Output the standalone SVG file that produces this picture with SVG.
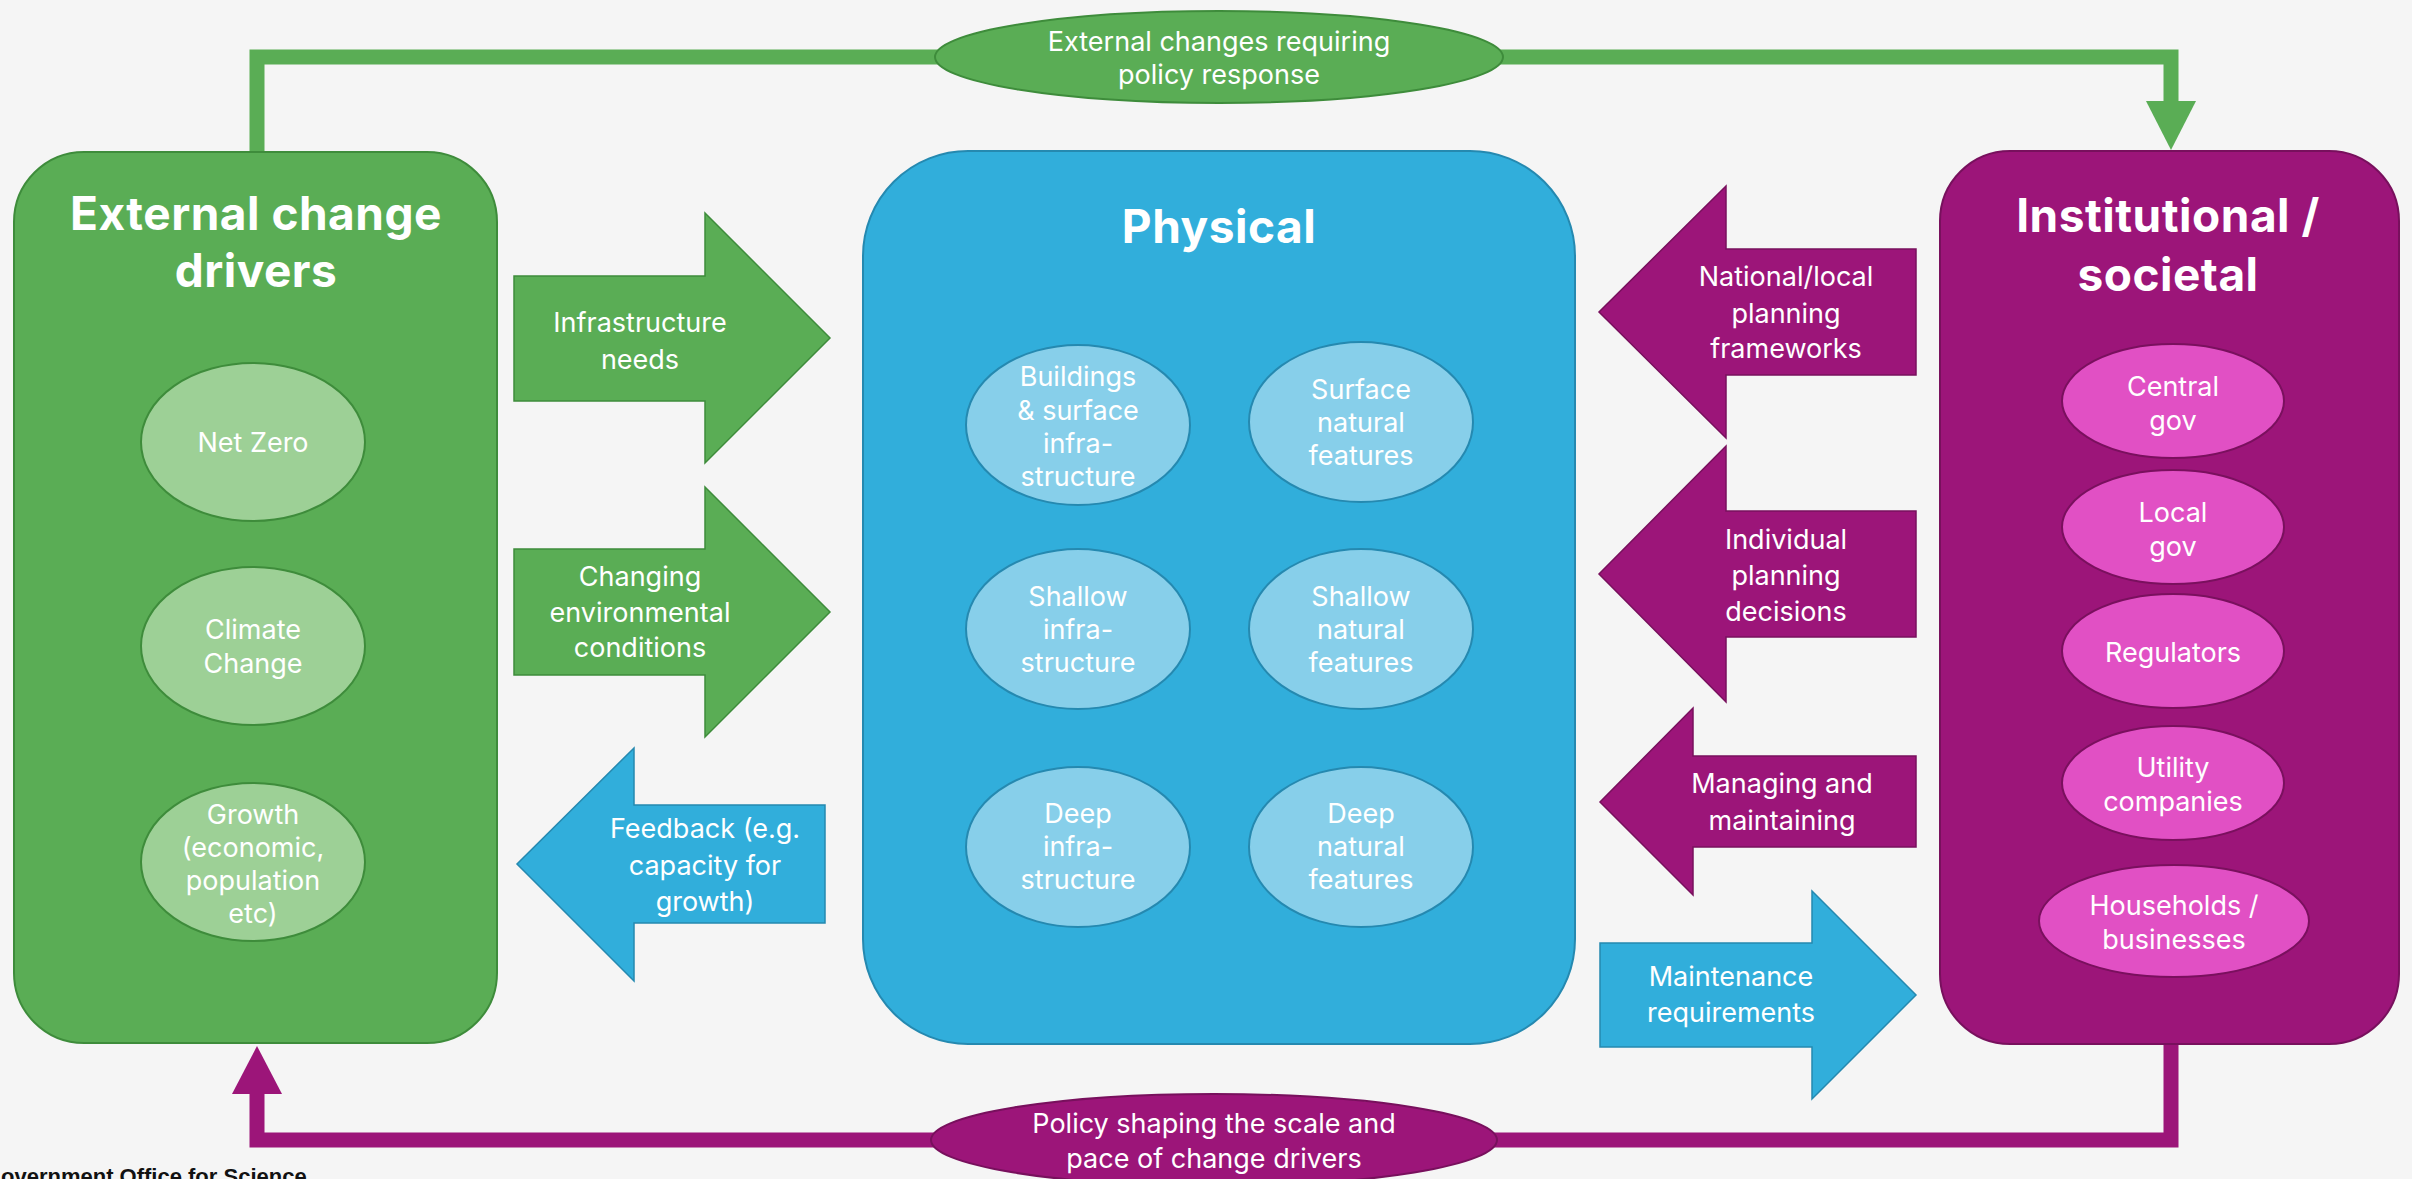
<svg xmlns="http://www.w3.org/2000/svg" width="2412" height="1179" viewBox="0 0 2412 1179">
<defs>
<style>
.t{font-family:Inter,"Open Sans","Liberation Sans",sans-serif;font-size:27px;fill:#ffffff;text-anchor:middle}
.h{font-family:Inter,"Open Sans","Liberation Sans",sans-serif;font-size:46px;font-weight:700;fill:#ffffff;text-anchor:middle;letter-spacing:0.5px}
.gbox{fill:#5aad55;stroke:#3e8c3b;stroke-width:2}
.bbox{fill:#31aedb;stroke:#2589b0;stroke-width:2}
.pbox{fill:#9c1579;stroke:#78105d;stroke-width:2}
.gell{fill:#9dd096;stroke:#3e8c3b;stroke-width:2}
.bell{fill:#87cfea;stroke:#2589b0;stroke-width:2}
.pell{fill:#e150c4;stroke:#7a105e;stroke-width:2}
.garrow{fill:#5aad55;stroke:#3e8c3b;stroke-width:1.5}
.barrow{fill:#31aedb;stroke:#2589b0;stroke-width:1.5}
.parrow{fill:#9c1579;stroke:#78105d;stroke-width:1.5}
.gline{fill:none;stroke:#5aad55;stroke-width:15}
.pline{fill:none;stroke:#9c1579;stroke-width:15}
</style>
<marker id="mg" markerUnits="userSpaceOnUse" markerWidth="50" markerHeight="50" refX="0" refY="25" orient="auto"><path d="M0,0 L49,25 L0,50 Z" fill="#5aad55"/></marker>
<marker id="mp" markerUnits="userSpaceOnUse" markerWidth="50" markerHeight="50" refX="0" refY="25" orient="auto"><path d="M0,0 L48,25 L0,50 Z" fill="#9c1579"/></marker>
</defs>
<rect x="0" y="0" width="2412" height="1179" fill="#f5f5f5"/>

<g id="connectors">
<path class="gline" d="M257,152 V57 H2171 V101" marker-end="url(#mg)"/>
<path class="pline" d="M2171,1044 V1140 H257 V1094" marker-end="url(#mp)"/>
<g id="label-external-changes">
<ellipse cx="1219" cy="57" rx="284" ry="46" fill="#5aad55" stroke="#3e8c3b" stroke-width="2"/>
<text class="t" x="1219" y="51">External changes requiring</text>
<text class="t" x="1219" y="84">policy response</text>
</g>
<g id="label-policy-shaping">
<ellipse cx="1214" cy="1140" rx="283" ry="46" fill="#9c1579" stroke="#78105d" stroke-width="2"/>
<text class="t" x="1214" y="1133">Policy shaping the scale and</text>
<text class="t" x="1214" y="1168">pace of change drivers</text>
</g>
<g id="arrow-infrastructure-needs">
<polygon class="garrow" points="514,276 705,276 705,213 830,338 705,463 705,401 514,401"/>
<text class="t" x="640" y="332">Infrastructure</text>
<text class="t" x="640" y="369">needs</text>
</g>
<g id="arrow-changing-env">
<polygon class="garrow" points="514,549 705,549 705,487 830,612 705,737 705,675 514,675"/>
<text class="t" x="640" y="586">Changing</text>
<text class="t" x="640" y="622">environmental</text>
<text class="t" x="640" y="657">conditions</text>
</g>
<g id="arrow-feedback">
<polygon class="barrow" points="825,805 634,805 634,748 517,864 634,981 634,923 825,923"/>
<text class="t" x="705" y="838">Feedback (e.g.</text>
<text class="t" x="705" y="875">capacity for</text>
<text class="t" x="705" y="911">growth)</text>
</g>
<g id="arrow-national-local">
<polygon class="parrow" points="1916,249 1726,249 1726,186 1599,312 1726,438 1726,375 1916,375"/>
<text class="t" x="1786" y="286">National/local</text>
<text class="t" x="1786" y="323">planning</text>
<text class="t" x="1786" y="358">frameworks</text>
</g>
<g id="arrow-individual">
<polygon class="parrow" points="1916,511 1726,511 1726,446 1599,574 1726,702 1726,637 1916,637"/>
<text class="t" x="1786" y="549">Individual</text>
<text class="t" x="1786" y="585">planning</text>
<text class="t" x="1786" y="621">decisions</text>
</g>
<g id="arrow-managing">
<polygon class="parrow" points="1916,756 1693,756 1693,708 1600,802 1693,895 1693,847 1916,847"/>
<text class="t" x="1782" y="793">Managing and</text>
<text class="t" x="1782" y="830">maintaining</text>
</g>
<g id="arrow-maintenance">
<polygon class="barrow" points="1600,943 1812,943 1812,891 1916,995 1812,1099 1812,1047 1600,1047"/>
<text class="t" x="1731" y="986">Maintenance</text>
<text class="t" x="1731" y="1022">requirements</text>
</g>
</g>

<g id="external-change-drivers">
<rect class="gbox" x="14" y="152" width="483" height="891" rx="70" ry="70"/>
<text class="h" x="256" y="230">External change</text>
<text class="h" x="256" y="287">drivers</text>
<g id="net-zero"><ellipse class="gell" cx="253" cy="442" rx="112" ry="79"/><text class="t" x="253" y="452">Net Zero</text></g>
<g id="climate-change"><ellipse class="gell" cx="253" cy="646" rx="112" ry="79"/><text class="t" x="253" y="639">Climate</text><text class="t" x="253" y="673">Change</text></g>
<g id="growth"><ellipse class="gell" cx="253" cy="862" rx="112" ry="79"/><text class="t" x="253" y="824">Growth</text><text class="t" x="253" y="857">(economic,</text><text class="t" x="253" y="890">population</text><text class="t" x="253" y="923">etc)</text></g>
</g>

<g id="physical">
<rect class="bbox" x="863" y="151" width="712" height="893" rx="105" ry="105"/>
<text class="h" x="1219" y="243">Physical</text>
<g id="buildings"><ellipse class="bell" cx="1078" cy="425" rx="112" ry="80"/><text class="t" x="1078" y="386">Buildings</text><text class="t" x="1078" y="420">&amp; surface</text><text class="t" x="1078" y="453">infra-</text><text class="t" x="1078" y="486">structure</text></g>
<g id="surface-natural"><ellipse class="bell" cx="1361" cy="422" rx="112" ry="80"/><text class="t" x="1361" y="399">Surface</text><text class="t" x="1361" y="432">natural</text><text class="t" x="1361" y="465">features</text></g>
<g id="shallow-infra"><ellipse class="bell" cx="1078" cy="629" rx="112" ry="80"/><text class="t" x="1078" y="606">Shallow</text><text class="t" x="1078" y="639">infra-</text><text class="t" x="1078" y="672">structure</text></g>
<g id="shallow-natural"><ellipse class="bell" cx="1361" cy="629" rx="112" ry="80"/><text class="t" x="1361" y="606">Shallow</text><text class="t" x="1361" y="639">natural</text><text class="t" x="1361" y="672">features</text></g>
<g id="deep-infra"><ellipse class="bell" cx="1078" cy="847" rx="112" ry="80"/><text class="t" x="1078" y="823">Deep</text><text class="t" x="1078" y="856">infra-</text><text class="t" x="1078" y="889">structure</text></g>
<g id="deep-natural"><ellipse class="bell" cx="1361" cy="847" rx="112" ry="80"/><text class="t" x="1361" y="823">Deep</text><text class="t" x="1361" y="856">natural</text><text class="t" x="1361" y="889">features</text></g>
</g>

<g id="institutional-societal">
<rect class="pbox" x="1940" y="151" width="459" height="893" rx="70" ry="70"/>
<text class="h" x="2168" y="232">Institutional /</text>
<text class="h" x="2168" y="291">societal</text>
<g id="central-gov"><ellipse class="pell" cx="2173" cy="401" rx="111" ry="57"/><text class="t" x="2173" y="396">Central</text><text class="t" x="2173" y="430">gov</text></g>
<g id="local-gov"><ellipse class="pell" cx="2173" cy="527" rx="111" ry="57"/><text class="t" x="2173" y="522">Local</text><text class="t" x="2173" y="556">gov</text></g>
<g id="regulators"><ellipse class="pell" cx="2173" cy="651" rx="111" ry="57"/><text class="t" x="2173" y="662">Regulators</text></g>
<g id="utility"><ellipse class="pell" cx="2173" cy="783" rx="111" ry="57"/><text class="t" x="2173" y="777">Utility</text><text class="t" x="2173" y="811">companies</text></g>
<g id="households"><ellipse class="pell" cx="2174" cy="921" rx="135" ry="56"/><text class="t" x="2174" y="915">Households /</text><text class="t" x="2174" y="949">businesses</text></g>
</g>

<text x="1" y="1184" font-family="'Liberation Sans',Arial,sans-serif" font-size="22" font-weight="700" fill="#111111">overnment Office for Science</text>
</svg>
